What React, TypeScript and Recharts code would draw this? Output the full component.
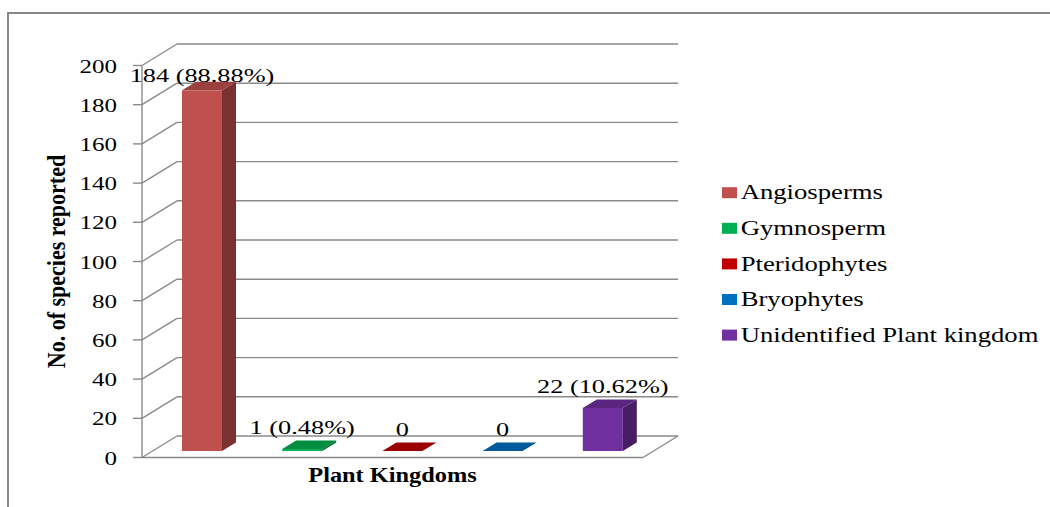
import React from 'react';
import { BarChart, Bar, XAxis, YAxis, CartesianGrid, LabelList, Legend } from 'recharts';

// chart data
const kingdoms = ['Angiosperms', 'Gymnosperm', 'Pteridophytes', 'Bryophytes', 'Unidentified Plant kingdom'];
const speciesCount = [184, 1, 0, 0, 22];
const shareLabels = ['184 (88.88%)', '1 (0.48%)', '0', '0', '22 (10.62%)'];
const kingdomColors = ['#C0504D', '#00B050', '#C00000', '#0070C0', '#7030A0'];
const yTicks = [0, 20, 40, 60, 80, 100, 120, 140, 160, 180, 200];

const data = kingdoms.map((name, i) => ({ name, count: speciesCount[i], label: shareLabels[i] }));

// fake 3d depth
const DX = 35;
const DY = -21.5;
const BAR_OX = 10;
const BAR_OY = -6.5;
const BAR_DX = 14;
const BAR_DY = -8.5;
const PLOT_TOP = 65.5;

const GRID = '#8a8a8a';
const FONT = 'Liberation Serif, Tinos, DejaVu Serif, serif';

function shade(hex: string, f: number) {
    const n = parseInt(hex.slice(1), 16);
    const r = Math.round(((n >> 16) & 255) * f);
    const g = Math.round(((n >> 8) & 255) * f);
    const b = Math.round((n & 255) * f);
    return `rgb(${r},${g},${b})`;
}

// old excel export looks horizontally stretched, so text gets a scaleX
function SText({ x, y, sx = 1.35, size = 18, bold = false, anchor = 'start', rotate = 0, children }: any) {
    const rot = rotate ? ` rotate(${rotate})` : '';
    return (
        <text
            transform={`translate(${x},${y}) scale(${sx},1)${rot}`}
            textAnchor={anchor}
            style={{ fontFamily: FONT, fontSize: size, fontWeight: bold ? 700 : 400 }}
            fill="#000"
        >
            {children}
        </text>
    );
}

function PrismBar(props: any) {
    const { x, y, width, height, index } = props;
    const base = kingdomColors[index % kingdomColors.length];
    const h = Math.max(height || 0, 0);
    const fx = x + BAR_OX;
    const fy = y + BAR_OY;
    const top = `${fx},${fy} ${fx + width},${fy} ${fx + width + BAR_DX},${fy + BAR_DY} ${fx + BAR_DX},${fy + BAR_DY}`;
    const side = `${fx + width},${fy} ${fx + width + BAR_DX},${fy + BAR_DY} ${fx + width + BAR_DX},${fy + h + BAR_DY} ${fx + width},${fy + h}`;
    return (
        <g>
            {h > 0 && <rect x={fx} y={fy} width={width} height={h} fill={base} />}
            {h > 0 && <polygon points={side} fill={shade(base, 0.63)} />}
            <polygon points={top} fill={shade(base, 0.8)} />
        </g>
    );
}

function GridLine(p: any) {
    const { x1, y1, x2 } = p;
    const isFloor = Math.abs(y1 - (p.y + p.height)) < 1;
    return (
        <g stroke={GRID} strokeWidth={1.4} fill="none">
            <line x1={x1} y1={y1} x2={x1 + DX} y2={y1 + DY} />
            <line x1={x1 + DX} y1={y1 + DY} x2={x2 + DX} y2={y1 + DY} />
            {isFloor && <line x1={x2} y1={y1} x2={x2 + DX} y2={y1 + DY} />}
        </g>
    );
}

function ValueLabel(props: any) {
    const vb = props.viewBox || props;
    const cx = vb.x + vb.width / 2 + BAR_OX;
    const ly = Math.max(vb.y + BAR_OY - 15, PLOT_TOP + 16);
    return (
        <SText x={cx} y={ly} size={19.5} sx={1.35} anchor="middle">
            {props.value}
        </SText>
    );
}

function LegendBox() {
    return (
        <svg width={335} height={190}>
            {kingdoms.map((k, i) => {
                const cy = 22.7 + i * 35.6;
                return (
                    <g key={k}>
                        <rect x={8} y={cy - 5.5} width={15} height={11} fill={kingdomColors[i]} />
                        <SText x={26.7} y={cy + 6.6} size={21} sx={1.27}>
                            {k}
                        </SText>
                    </g>
                );
            })}
        </svg>
    );
}

export default function App() {
    return (
        <div style={{ position: 'absolute', left: 0, top: 0, width: 1050, height: 507, overflow: 'hidden', background: '#fff' }}>
            <div
                style={{
                    position: 'absolute',
                    left: 7,
                    top: 12,
                    width: 1100,
                    height: 600,
                    border: '2px solid #878787',
                }}
            />
            <div style={{ position: 'absolute', left: 0, top: 0 }}>
                <BarChart
                    width={1050}
                    height={507}
                    data={data}
                    margin={{ top: PLOT_TOP, right: 407, bottom: 0, left: 0 }}
                    barSize={40}
                >
                    <CartesianGrid vertical={false} horizontal={(p: any) => <GridLine {...p} />} />
                    <XAxis
                        dataKey="name"
                        tick={false}
                        tickLine={false}
                        axisLine={{ stroke: GRID, strokeWidth: 1.4 }}
                        height={49.5}
                        label={{
                            content: (lp: any) => {
                                const vb = lp.viewBox;
                                return (
                                    <SText x={vb.x + vb.width / 2} y={vb.y + 24.2} size={21} bold sx={1.16} anchor="middle">
                                        Plant Kingdoms
                                    </SText>
                                );
                            },
                        }}
                    />
                    <YAxis
                        type="number"
                        domain={[0, 200]}
                        ticks={yTicks}
                        interval={0}
                        width={142}
                        tickSize={9}
                        tickMargin={16}
                        axisLine={{ stroke: GRID, strokeWidth: 1.4 }}
                        tickLine={{ stroke: GRID, strokeWidth: 1.4 }}
                        tick={(tp: any) => (
                            <SText x={tp.x} y={tp.y + 7} size={18} sx={1.39} anchor="end">
                                {tp.payload.value}
                            </SText>
                        )}
                        label={{
                            content: (lp: any) => {
                                const vb = lp.viewBox;
                                return (
                                    <SText x={65} y={vb.y + vb.height / 2} size={22} bold sx={1.15} anchor="middle" rotate={-90}>
                                        No. of species reported
                                    </SText>
                                );
                            },
                        }}
                    />
                    <Legend
                        layout="vertical"
                        align="center"
                        verticalAlign="middle"
                        wrapperStyle={{ left: 714, top: 170, width: 335, height: 190 }}
                        content={() => <LegendBox />}
                    />
                    <Bar dataKey="count" shape={(p: any) => <PrismBar {...p} />} isAnimationActive={false}>
                        <LabelList dataKey="label" content={(p: any) => <ValueLabel {...p} />} />
                    </Bar>
                </BarChart>
            </div>
        </div>
    );
}
